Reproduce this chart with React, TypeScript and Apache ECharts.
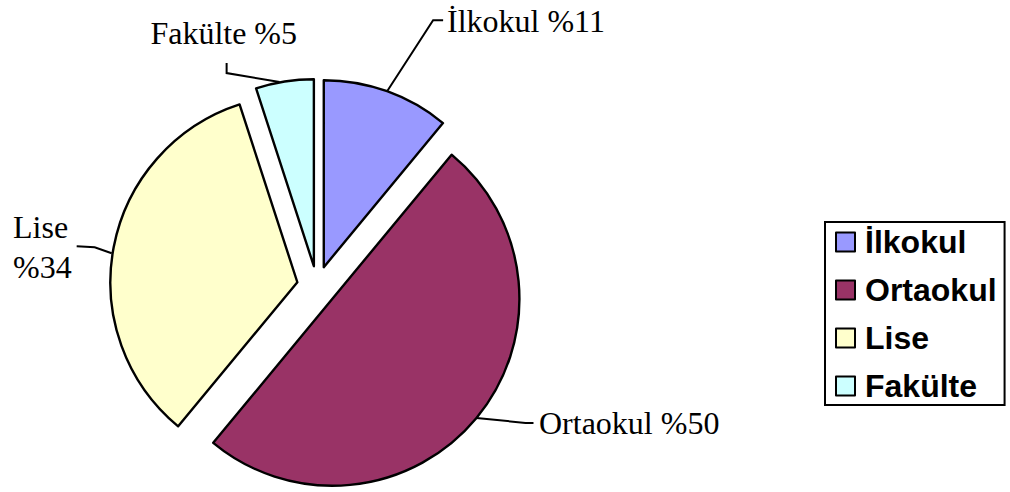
import React, { useEffect, useRef } from "react";
import * as echarts from "echarts";

const categories = ["İlkokul", "Ortaokul", "Lise", "Fakülte"];
const values = [11, 50, 34, 5];
const colors = ["#9999FF", "#993366", "#FFFFCC", "#CCFFFF"];
const labelTexts = ["İlkokul %11", "Ortaokul %50", "Lise\n%34", "Fakülte %5"];

// Label layout (not data): default label line lengths put the text where
// it belongs; custom guide-line shapes are given relative to the slice anchor.
const labelLengths = [
  { length: 74.6, length2: 29.6 },
  { length: 7.9, length2: 51.4 },
  { length: 1.3, length2: 94.4 },
  { length: 49.2, length2: -25.1 },
];
const linePlacement: Record<number, any> = {
  0: { pts: [[0, 0], [46, -71], [56, -71]] },
  1: { pts: [[0, 0], [49, 5], [57, 5]] },
  2: { pts: [[-2, 6], [-19, 0], [-37, -1]], align: "left" },
  3: { pts: [[-5, 0.5], [-58, -8.5], [-58, -18.5]] },
};

export default function App() {
  const ref = useRef<HTMLDivElement>(null);
  useEffect(() => {
    const chart = echarts.init(ref.current!, null, { renderer: "svg" });
    chart.setOption({
      animation: false,
      legend: {
        orient: "vertical",
        left: 825,
        top: 222,
        padding: [4, 8, 3, 10],
        itemGap: 16,
        itemWidth: 19,
        itemHeight: 19,
        borderColor: "#000",
        borderWidth: 2,
        borderRadius: 0,
        icon: "rect",
        itemStyle: { borderColor: "#000", borderWidth: 2 },
        textStyle: {
          fontFamily: "Liberation Sans, Arial",
          fontWeight: "bold",
          fontSize: 32,
          lineHeight: 32,
          color: "#000",
          padding: [0, 0, 0, 5],
        },
        data: categories,
      },
      series: [
        {
          type: "pie",
          center: [317, 286],
          radius: 187,
          startAngle: 90,
          clockwise: true,
          avoidLabelOverlap: false,
          selectedMode: "multiple",
          selectedOffset: 20,
          emphasis: { disabled: true },
          itemStyle: { borderColor: "#000", borderWidth: 2.4 },
          label: {
            show: true,
            position: "outside",
            fontFamily: "Liberation Serif, Times New Roman",
            fontSize: 32,
            color: "#000",
            lineHeight: 40,
            width: 240,
            overflow: "none",
            distanceToLabelLine: 5,
            formatter: (p: any) => labelTexts[p.dataIndex],
          },
          labelLine: {
            show: true,
            lineStyle: { color: "#000", width: 2 },
          },
          labelLayout: (params: any) => {
            const pts = params.labelLinePoints;
            const cfg = linePlacement[params.dataIndex];
            if (!pts || !pts[0] || !cfg) return {};
            const ax = pts[0][0];
            const ay = pts[0][1];
            const out: any = {
              labelLinePoints: cfg.pts.map((p: number[]) => [ax + p[0], ay + p[1]]),
            };
            if (cfg.align) out.align = cfg.align;
            return out;
          },
          data: categories.map((c, i) => ({
            name: c,
            value: values[i],
            selected: true,
            itemStyle: { color: colors[i] },
            labelLine: labelLengths[i],
          })),
        },
      ],
    });
    return () => chart.dispose();
  }, []);
  return (
    <div
      ref={ref}
      style={{ position: "fixed", left: 0, top: 0, width: 1010, height: 492, background: "#fff" }}
    />
  );
}
